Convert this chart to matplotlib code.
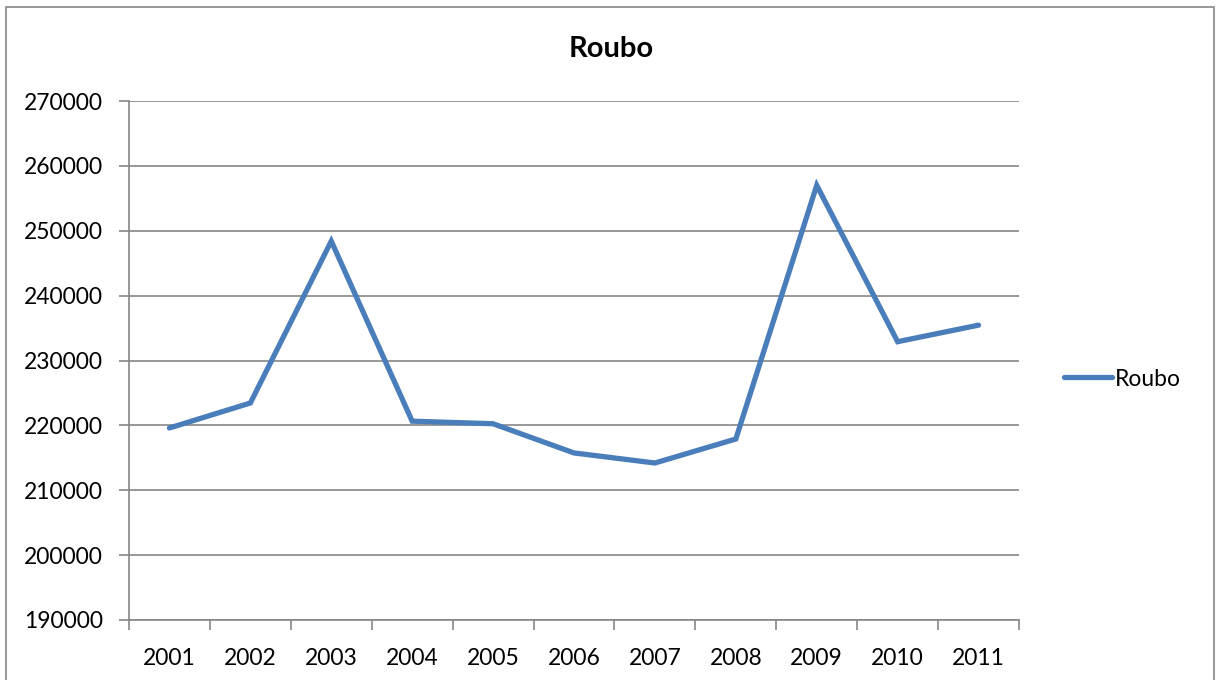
import matplotlib.pyplot as plt
import matplotlib.patches as patches
import numpy as np

plt.rcParams['font.family'] = ['Lato', 'DejaVu Sans']

# Datos de la serie
anos = ['2001', '2002', '2003', '2004', '2005', '2006',
        '2007', '2008', '2009', '2010', '2011']
roubo = [219600, 223450, 248400, 220650, 220250, 215750,
         214200, 217900, 257000, 232900, 235450]

W, H = 1216, 680
fig = plt.figure(figsize=(W / 100, H / 100), dpi=100)

# Borde exterior del gráfico
fig.patches.append(patches.Rectangle((6 / W, -0.01), 1208 / W, 1 - 7 / H + 0.01,
                                     transform=fig.transFigure, fill=False,
                                     edgecolor='#868686', linewidth=1.2))

ax = fig.add_axes([129 / W, (H - 620) / H, 890 / W, 519 / H])

x = np.arange(len(anos))
ax.plot(x, roubo, color='#4A7EBB', linewidth=3.8, solid_joinstyle='miter',
        solid_capstyle='round', label='Roubo')

ax.set_xlim(-0.5, len(anos) - 0.5)
ax.set_ylim(190000, 270000)
ax.set_yticks(np.arange(190000, 270001, 10000))
ax.set_yticklabels([str(v) for v in range(190000, 270001, 10000)])
ax.set_xticks(x)
ax.set_xticklabels(anos)
ax.set_xticks(np.arange(-0.5, len(anos)), minor=True)

ax.grid(axis='y', color='#868686', linewidth=1.2)
ax.set_axisbelow(True)
for lado in ['top', 'right']:
    ax.spines[lado].set_visible(False)
for lado in ['left', 'bottom']:
    ax.spines[lado].set_color('#868686')
    ax.spines[lado].set_linewidth(1.2)

ax.tick_params(axis='x', which='major', length=0, labelsize=16.5, pad=20)
ax.tick_params(axis='x', which='minor', length=7, color='#868686', width=1.2)
ax.tick_params(axis='y', length=7, color='#868686', width=1.2, labelsize=16.5, pad=12)

fig.text(611 / W, 1 - 49 / H, 'Roubo', ha='center', va='center',
         fontsize=21, fontweight='bold')

ax.legend(loc='center left', bbox_to_anchor=(1.04, (620 - 379) / 519),
          frameon=False, fontsize=16.5, handlelength=2.1, handletextpad=0.15,
          borderaxespad=0)

fig.savefig('out.png', dpi=100, facecolor='white')
